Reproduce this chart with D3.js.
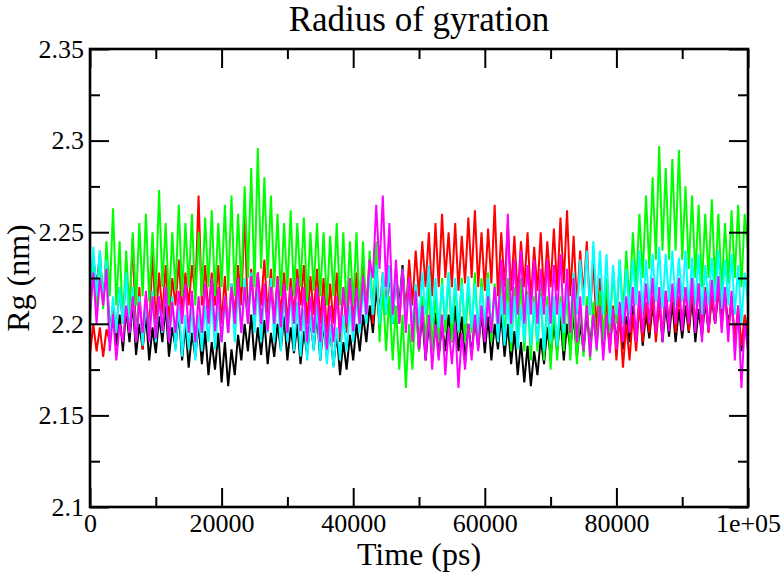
<!DOCTYPE html>
<html>
<head>
<meta charset="utf-8">
<script src="https://cdn.jsdelivr.net/npm/d3@7"></script>
<style>
  body { margin: 0; background: #fff; font-family: 'Liberation Serif'; }
  text { font-family: 'Liberation Serif'; }
</style>
</head>
<body>
<div id="chart"></div>
<script>
// Rg traces, one value every 500 ps from 0 to 1e+05 ps
var timeStep = 500;

var rgBlack = [
  2.215,2.236,2.22,2.238,2.212,2.232,2.195,2.21,2.188,2.205,2.185,2.208,2.19,2.212,2.183,2.2,2.186,2.205,2.18,2.198,
  2.184,2.204,2.19,2.21,2.182,2.198,2.187,2.206,2.18,2.2,2.176,2.195,2.182,2.2,2.178,2.196,2.172,2.19,2.175,2.195,
  2.168,2.19,2.166,2.186,2.172,2.194,2.18,2.2,2.185,2.205,2.18,2.198,2.183,2.202,2.178,2.195,2.182,2.2,2.186,2.204,
  2.18,2.198,2.184,2.2,2.178,2.196,2.183,2.203,2.186,2.205,2.18,2.2,2.182,2.198,2.177,2.195,2.172,2.19,2.175,2.194,
  2.18,2.2,2.185,2.205,2.19,2.21,2.195,2.22,2.2,2.225,2.205,2.23,2.2,2.228,2.21,2.232,2.205,2.225,2.196,2.215,
  2.185,2.205,2.18,2.2,2.186,2.206,2.182,2.2,2.185,2.205,2.19,2.21,2.185,2.204,2.18,2.2,2.183,2.203,2.187,2.206,
  2.184,2.204,2.18,2.2,2.186,2.205,2.182,2.2,2.178,2.196,2.172,2.19,2.168,2.188,2.166,2.185,2.172,2.192,2.178,2.198,
  2.182,2.2,2.185,2.204,2.18,2.2,2.186,2.205,2.182,2.2,2.185,2.205,2.188,2.207,2.19,2.21,2.186,2.205,2.188,2.206,
  2.19,2.208,2.186,2.204,2.19,2.21,2.192,2.212,2.188,2.206,2.192,2.21,2.195,2.214,2.19,2.21,2.193,2.212,2.19,2.208,
  2.192,2.21,2.195,2.214,2.19,2.208,2.193,2.212,2.196,2.215,2.2,2.218,2.205,2.215,2.2,2.212,2.192,2.205,2.185,2.2,
  2.19
];

var rgRed = [
  2.183,2.2,2.185,2.198,2.182,2.197,2.19,2.21,2.195,2.22,2.2,2.228,2.205,2.247,2.19,2.22,2.186,2.215,2.195,2.24,
  2.2,2.228,2.205,2.232,2.2,2.225,2.21,2.235,2.205,2.228,2.21,2.232,2.215,2.27,2.21,2.232,2.205,2.228,2.21,2.232,
  2.2,2.226,2.195,2.222,2.205,2.232,2.21,2.262,2.2,2.23,2.205,2.228,2.21,2.235,2.205,2.23,2.2,2.226,2.205,2.228,
  2.2,2.225,2.205,2.23,2.21,2.232,2.2,2.226,2.205,2.23,2.2,2.225,2.195,2.222,2.2,2.228,2.19,2.22,2.195,2.225,
  2.2,2.228,2.205,2.232,2.21,2.235,2.2,2.23,2.205,2.228,2.21,2.232,2.205,2.23,2.2,2.228,2.205,2.235,2.21,2.24,
  2.215,2.245,2.22,2.25,2.215,2.255,2.22,2.26,2.225,2.25,2.22,2.255,2.218,2.248,2.222,2.258,2.225,2.262,2.22,2.25,
  2.218,2.252,2.222,2.265,2.215,2.25,2.22,2.255,2.218,2.248,2.215,2.245,2.22,2.25,2.212,2.242,2.218,2.25,2.215,2.245,
  2.22,2.252,2.218,2.258,2.222,2.262,2.215,2.248,2.21,2.24,2.215,2.245,2.205,2.235,2.195,2.225,2.19,2.215,2.185,2.21,
  2.18,2.205,2.176,2.2,2.18,2.205,2.185,2.21,2.19,2.212,2.195,2.215,2.19,2.21,2.195,2.218,2.2,2.22,2.195,2.215,
  2.2,2.22,2.196,2.218,2.2,2.222,2.198,2.22,2.195,2.215,2.2,2.22,2.198,2.218,2.195,2.215,2.19,2.21,2.188,2.205,
  2.195
];

var rgGreen = [
  2.2,2.235,2.205,2.24,2.208,2.245,2.215,2.263,2.21,2.245,2.2,2.24,2.205,2.25,2.21,2.255,2.215,2.26,2.212,2.25,
  2.215,2.273,2.22,2.255,2.21,2.25,2.218,2.265,2.215,2.255,2.22,2.26,2.21,2.25,2.215,2.258,2.22,2.262,2.215,2.255,
  2.22,2.265,2.218,2.27,2.215,2.26,2.22,2.275,2.225,2.285,2.22,2.296,2.23,2.28,2.225,2.27,2.22,2.26,2.215,2.255,
  2.218,2.262,2.215,2.255,2.22,2.258,2.212,2.25,2.218,2.255,2.215,2.25,2.21,2.248,2.215,2.255,2.21,2.25,2.205,2.245,
  2.21,2.25,2.205,2.245,2.2,2.24,2.205,2.245,2.19,2.22,2.185,2.215,2.18,2.21,2.175,2.205,2.165,2.2,2.175,2.21,
  2.185,2.215,2.19,2.222,2.185,2.218,2.19,2.225,2.195,2.228,2.19,2.222,2.195,2.225,2.19,2.22,2.195,2.228,2.192,2.225,
  2.195,2.228,2.19,2.222,2.195,2.23,2.19,2.225,2.185,2.22,2.19,2.225,2.185,2.218,2.18,2.215,2.185,2.22,2.18,2.215,
  2.175,2.21,2.18,2.215,2.185,2.22,2.18,2.215,2.178,2.21,2.182,2.215,2.18,2.212,2.185,2.218,2.19,2.225,2.195,2.23,
  2.2,2.235,2.205,2.24,2.21,2.25,2.22,2.26,2.225,2.27,2.23,2.28,2.235,2.297,2.24,2.285,2.235,2.29,2.24,2.295,
  2.235,2.275,2.23,2.27,2.225,2.265,2.22,2.26,2.225,2.268,2.22,2.26,2.218,2.255,2.222,2.262,2.225,2.265,2.22,2.26,
  2.24
];

var rgCyan = [
  2.21,2.242,2.215,2.24,2.21,2.235,2.19,2.215,2.195,2.22,2.2,2.228,2.195,2.22,2.19,2.215,2.188,2.212,2.192,2.218,
  2.19,2.215,2.195,2.22,2.19,2.215,2.185,2.21,2.182,2.205,2.186,2.21,2.18,2.205,2.185,2.21,2.19,2.215,2.186,2.21,
  2.19,2.215,2.195,2.222,2.19,2.218,2.195,2.225,2.2,2.228,2.195,2.222,2.19,2.218,2.195,2.225,2.19,2.22,2.185,2.215,
  2.19,2.218,2.185,2.212,2.182,2.208,2.18,2.205,2.185,2.21,2.18,2.205,2.178,2.2,2.176,2.198,2.18,2.205,2.185,2.21,
  2.19,2.215,2.195,2.22,2.2,2.228,2.205,2.232,2.2,2.228,2.205,2.232,2.2,2.228,2.205,2.23,2.2,2.225,2.195,2.222,
  2.2,2.228,2.205,2.232,2.2,2.225,2.198,2.222,2.202,2.228,2.2,2.225,2.196,2.222,2.2,2.226,2.198,2.222,2.195,2.22,
  2.198,2.225,2.195,2.22,2.19,2.215,2.188,2.212,2.19,2.215,2.186,2.21,2.19,2.216,2.188,2.212,2.19,2.215,2.185,2.21,
  2.19,2.215,2.188,2.212,2.195,2.22,2.2,2.228,2.205,2.235,2.21,2.24,2.205,2.245,2.21,2.24,2.205,2.238,2.2,2.232,
  2.205,2.235,2.2,2.23,2.205,2.235,2.21,2.24,2.205,2.235,2.21,2.238,2.212,2.242,2.208,2.238,2.212,2.24,2.21,2.236,
  2.212,2.24,2.208,2.236,2.21,2.238,2.205,2.232,2.21,2.236,2.212,2.24,2.208,2.235,2.21,2.238,2.205,2.232,2.2,2.228,
  2.21
];

var rgMagenta = [
  2.205,2.228,2.2,2.225,2.21,2.23,2.185,2.205,2.18,2.2,2.19,2.21,2.195,2.215,2.19,2.212,2.195,2.218,2.19,2.215,
  2.192,2.215,2.196,2.22,2.19,2.212,2.195,2.218,2.2,2.222,2.195,2.218,2.19,2.215,2.195,2.222,2.2,2.225,2.196,2.22,
  2.19,2.215,2.195,2.22,2.2,2.225,2.195,2.22,2.2,2.226,2.205,2.228,2.2,2.222,2.196,2.22,2.2,2.225,2.198,2.222,
  2.195,2.22,2.2,2.225,2.196,2.22,2.19,2.215,2.195,2.22,2.19,2.215,2.186,2.21,2.19,2.215,2.195,2.22,2.2,2.225,
  2.196,2.22,2.2,2.226,2.205,2.235,2.225,2.265,2.23,2.27,2.22,2.255,2.205,2.235,2.2,2.23,2.195,2.225,2.19,2.218,
  2.186,2.21,2.18,2.205,2.175,2.2,2.18,2.205,2.172,2.198,2.178,2.2,2.165,2.195,2.175,2.2,2.18,2.205,2.185,2.21,
  2.19,2.215,2.195,2.22,2.2,2.235,2.205,2.26,2.2,2.235,2.205,2.24,2.2,2.232,2.205,2.235,2.2,2.23,2.205,2.235,
  2.2,2.232,2.205,2.238,2.2,2.23,2.195,2.225,2.19,2.215,2.185,2.21,2.182,2.205,2.186,2.21,2.18,2.205,2.184,2.208,
  2.186,2.212,2.19,2.215,2.195,2.22,2.19,2.218,2.195,2.222,2.2,2.225,2.195,2.22,2.19,2.218,2.196,2.222,2.2,2.225,
  2.196,2.22,2.2,2.225,2.195,2.222,2.19,2.218,2.196,2.224,2.2,2.226,2.195,2.22,2.19,2.218,2.18,2.21,2.165,2.2,
  2.185
];

var seriesColors = ["#000000", "#ff0000", "#00ff00", "#00ffff", "#ff00ff"];
var seriesData = [rgBlack, rgRed, rgGreen, rgCyan, rgMagenta];

var xMajorTicks = [0, 20000, 40000, 60000, 80000, 100000];
var xTickLabels = ["0", "20000", "40000", "60000", "80000", "1e+05"];
var xMinorTicks = [10000, 30000, 50000, 70000, 90000];
var yMajorTicks = [2.1, 2.15, 2.2, 2.25, 2.3, 2.35];
var yTickLabels = ["2.1", "2.15", "2.2", "2.25", "2.3", "2.35"];
var yMinorTicks = [2.125, 2.175, 2.225, 2.275, 2.325];

var W = 784, H = 574;
var plotLeft = 90, plotRight = 748, plotTop = 49, plotBottom = 507;
var serifFont = "Liberation Serif";

var svg = d3.select("#chart").append("svg")
    .attr("width", W).attr("height", H)
    .attr("font-family", serifFont);

var x = d3.scaleLinear().domain([0, 100000]).range([plotLeft, plotRight]);
var y = d3.scaleLinear().domain([2.1, 2.35]).range([plotBottom, plotTop]);

svg.append("clipPath").attr("id", "plotclip")
  .append("rect")
    .attr("x", plotLeft).attr("y", plotTop)
    .attr("width", plotRight - plotLeft).attr("height", plotBottom - plotTop);

var line = d3.line()
    .x(function(d, i) { return x(i * timeStep); })
    .y(function(d) { return y(d); });

var traces = svg.append("g").attr("clip-path", "url(#plotclip)");
seriesData.forEach(function(vals, k) {
  traces.append("path")
      .datum(vals)
      .attr("d", line)
      .attr("fill", "none")
      .attr("stroke", seriesColors[k])
      .attr("stroke-width", 2)
      .attr("stroke-linejoin", "miter");
});

// axes, ticks pointing into the frame
function tickAxis(axis, scale, vals, size, labels) {
  var a = axis(scale).tickValues(vals).tickSize(-size).tickPadding(labels ? 6 : 0);
  a.tickFormat(labels ? function(d, i) { return labels[i]; } : "");
  return a;
}

function styleAxis(g) {
  g.attr("font-family", serifFont).attr("font-size", 26);
  g.select(".domain").remove();
  g.selectAll(".tick line").attr("stroke", "#000").attr("stroke-width", 2);
  g.selectAll(".tick text")
      .attr("font-family", serifFont)
      .attr("font-size", 26)
      .style("font-family", serifFont)
      .style("font-size", "26px")
      .attr("fill", "#000");
}

svg.append("g").attr("transform", "translate(0," + plotBottom + ")")
    .call(tickAxis(d3.axisBottom, x, xMajorTicks, 19, xTickLabels)).call(styleAxis)
    .selectAll(".tick text").attr("dy", "0.72em");
svg.append("g").attr("transform", "translate(0," + plotBottom + ")")
    .call(tickAxis(d3.axisBottom, x, xMinorTicks, 10)).call(styleAxis);
svg.append("g").attr("transform", "translate(0," + plotTop + ")")
    .call(tickAxis(d3.axisTop, x, xMajorTicks, 19)).call(styleAxis);
svg.append("g").attr("transform", "translate(0," + plotTop + ")")
    .call(tickAxis(d3.axisTop, x, xMinorTicks, 10)).call(styleAxis);

svg.append("g").attr("transform", "translate(" + plotLeft + ",0)")
    .call(tickAxis(d3.axisLeft, y, yMajorTicks, 19, yTickLabels)).call(styleAxis);
svg.append("g").attr("transform", "translate(" + plotLeft + ",0)")
    .call(tickAxis(d3.axisLeft, y, yMinorTicks, 10)).call(styleAxis);
svg.append("g").attr("transform", "translate(" + plotRight + ",0)")
    .call(tickAxis(d3.axisRight, y, yMajorTicks, 19)).call(styleAxis);
svg.append("g").attr("transform", "translate(" + plotRight + ",0)")
    .call(tickAxis(d3.axisRight, y, yMinorTicks, 10)).call(styleAxis);

// frame
svg.append("rect")
    .attr("x", plotLeft).attr("y", plotTop)
    .attr("width", plotRight - plotLeft).attr("height", plotBottom - plotTop)
    .attr("fill", "none").attr("stroke", "#000").attr("stroke-width", 2.6);

function label(sel, size) {
  return sel.attr("text-anchor", "middle")
      .attr("font-family", serifFont)
      .attr("font-size", size)
      .style("font-family", serifFont)
      .style("font-size", size + "px");
}

svg.append("text")
    .attr("x", (plotLeft + plotRight) / 2).attr("y", 31)
    .call(label, 35)
    .text("Radius of gyration");

svg.append("text")
    .attr("x", (plotLeft + plotRight) / 2).attr("y", 565)
    .call(label, 32)
    .text("Time (ps)");

svg.append("text")
    .attr("transform", "translate(29," + ((plotTop + plotBottom) / 2) + ") rotate(-90)")
    .call(label, 32)
    .text("Rg (nm)");
</script>
</body>
</html>
